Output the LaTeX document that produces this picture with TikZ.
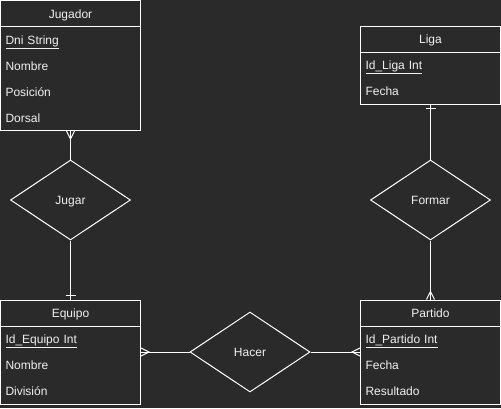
\documentclass[tikz,border=0pt]{standalone}
\usepackage{fontspec}
\setmainfont{Liberation Sans}
\usepackage{tikz}
\usetikzlibrary{arrows}
\usetikzlibrary{positioning}
\usetikzlibrary{shapes.geometric}
\usetikzlibrary{fit}
\usetikzlibrary{decorations.markings}
\definecolor{bg}{HTML}{2A2A2A}
\definecolor{fg}{HTML}{F0F0F0}

\begin{document}
\begin{tikzpicture}[x=1pt,y=-1pt,line width=1pt,
 every node/.style={text=fg,font=\fontsize{12}{14}\selectfont,text height=9.5pt,text depth=0pt},
 head/.style={minimum width=140pt,minimum height=26pt,inner sep=0pt,outer sep=0pt},
 attr/.style={text width=130pt,inner xsep=5pt,inner ysep=0pt,outer sep=0pt,minimum height=26pt,align=left},
 entity/.style={draw=white,inner sep=0pt},
 rel/.style={draw=white,diamond,aspect=1.5,minimum width=120pt,minimum height=80pt,inner sep=0pt},
 link/.style={draw=white},
 many/.style={link,postaction=decorate,decoration={markings,mark=at position -8pt with {\draw[white] (8pt,4pt) -- (0,0) -- (8pt,-4pt);}}},
 one/.style={link,postaction=decorate,decoration={markings,mark=at position -4pt with {\draw[white] (0,-5pt) -- (0,5pt);}}}]
 \fill[bg] (0,0) rectangle (501,408);
 \useasboundingbox (0,0) rectangle (501,408);
 % Jugador
 \node [head] (jugador) at (70.5,13.5) {Jugador};
 \node [attr,below=0pt of jugador] (jdni) {\underline{Dni String}};
 \node [attr,below=0pt of jdni] (jnombre) {Nombre};
 \node [attr,below=0pt of jnombre] (jposicion) {Posición};
 \node [attr,below=0pt of jposicion] (jdorsal) {Dorsal};
 \node [entity,fit=(jugador)(jdorsal)] (jugadorE) {};
 \draw [link] (jugador.south west) -- (jugador.south east);
 % Equipo
 \node [head] (equipo) at (70.5,313) {Equipo};
 \node [attr,below=0pt of equipo] (eid) {\underline{Id\_Equipo Int}};
 \node [attr,below=0pt of eid] (enombre) {Nombre};
 \node [attr,below=0pt of enombre] (edivision) {División};
 \node [entity,fit=(equipo)(edivision)] (equipoE) {};
 \draw [link] (equipo.south west) -- (equipo.south east);
 % Liga
 \node [head] (liga) at (430.5,39) {Liga};
 \node [attr,below=0pt of liga] (lid) {\underline{Id\_Liga Int}};
 \node [attr,below=0pt of lid] (lfecha) {Fecha};
 \node [entity,fit=(liga)(lfecha)] (ligaE) {};
 \draw [link] (liga.south west) -- (liga.south east);
 % Partido
 \node [head] (partido) at (430.5,313) {Partido};
 \node [attr,below=0pt of partido] (pid) {\underline{Id\_Partido Int}};
 \node [attr,below=0pt of pid] (pfecha) {Fecha};
 \node [attr,below=0pt of pfecha] (presultado) {Resultado};
 \node [entity,fit=(partido)(presultado)] (partidoE) {};
 \draw [link] (partido.south west) -- (partido.south east);
 % relaciones
 \node [rel] (jugar) at (70.5,200) {Jugar};
 \node [rel] (hacer) at (250,352) {Hacer};
 \node [rel] (formar) at (430.5,200) {Formar};
 \draw [many] (jugar) -- (jugadorE);
 \draw [one] (jugar) -- (equipoE);
 \draw [many] (hacer) -- (equipoE);
 \draw [many] (hacer) -- (partidoE);
 \draw [one] (formar) -- (ligaE);
 \draw [many] (formar) -- (partidoE);
\end{tikzpicture}
\end{document}
